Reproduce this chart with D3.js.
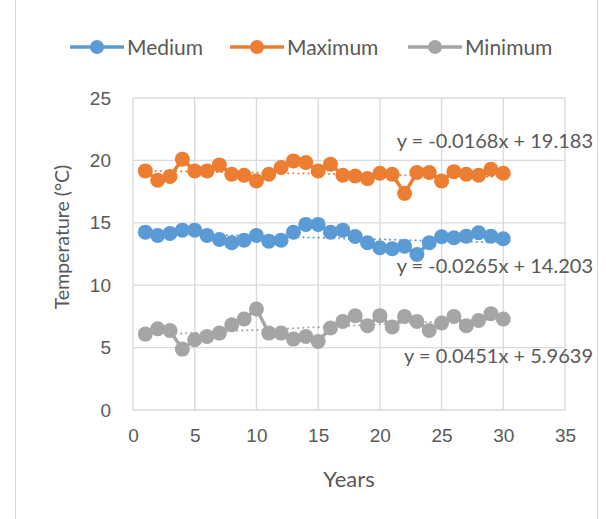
<!DOCTYPE html>
<html lang="en">
<head>
    <meta charset="UTF-8">
    <title>Temperature</title>
    <script src="https://d3js.org/d3.v7.min.js"></script>
    <style>
        body { margin: 0; background: #fff; }
        svg { font-family: Lato, "Open Sans", sans-serif; }
        .tick text { fill: #595959; font-size: 19px; }
    </style>
</head>
<body>
<svg width="606" height="519"></svg>
<script>
    // years 1..30
    const years = d3.range(1, 31);
    const medium = [14.25, 13.99, 14.15, 14.41, 14.41, 13.99, 13.67, 13.4, 13.61, 13.99,
                    13.53, 13.61, 14.25, 14.87, 14.87, 14.25, 14.41, 13.9, 13.4, 13.0,
                    12.92, 13.13, 12.46, 13.4, 13.88, 13.8, 13.93, 14.2, 13.93, 13.72];
    const maximum = [19.16, 18.41, 18.71, 20.1, 19.16, 19.16, 19.64, 18.89, 18.81, 18.35,
                     18.89, 19.43, 19.96, 19.83, 19.16, 19.7, 18.81, 18.75, 18.54, 18.97,
                     18.89, 17.36, 19.03, 19.03, 18.35, 19.1, 18.89, 18.81, 19.29, 18.97];
    const minimum = [6.08, 6.51, 6.37, 4.88, 5.63, 5.89, 6.16, 6.83, 7.29, 8.09,
                     6.16, 6.16, 5.68, 5.89, 5.49, 6.57, 7.1, 7.55, 6.75, 7.56,
                     6.65, 7.5, 7.1, 6.37, 6.97, 7.5, 6.75, 7.18, 7.72, 7.29];
    const seriesNames = ["Medium", "Maximum", "Minimum"];
    const colors = ["#5B9BD5", "#ED7D31", "#A5A5A5"];
    // trendline (slope, intercept) as printed on the chart
    const trends = [[-0.0265, 14.203], [-0.0168, 19.183], [0.0451, 5.9639]];
    const trendLabels = ["y = -0.0265x + 14.203", "y = -0.0168x + 19.183", "y = 0.0451x + 5.9639"];
    const xTicks = d3.range(0, 36, 5);
    const yTicks = d3.range(0, 26, 5);

    const svg = d3.select("svg");
    const margin = {left: 133, right: 41, top: 98, bottom: 109};
    const W = 606, H = 519;

    // outer chart border
    svg.append("line").attr("x1", 15.5).attr("x2", 15.5).attr("y1", 0).attr("y2", H)
        .attr("stroke", "#d9d9d9");
    svg.append("line").attr("x1", 597.5).attr("x2", 597.5).attr("y1", 0).attr("y2", H)
        .attr("stroke", "#d9d9d9");

    const x = d3.scaleLinear().domain([0, 35]).range([margin.left, W - margin.right]);
    const y = d3.scaleLinear().domain([0, 25]).range([H - margin.bottom, margin.top]);

    // grid
    const grid = svg.append("g");
    grid.selectAll(".gx").data(xTicks).enter().append("line")
        .attr("x1", d => x(d)).attr("x2", d => x(d))
        .attr("y1", y(0)).attr("y2", y(25))
        .attr("stroke", "#d9d9d9").attr("stroke-width", 1.3);
    grid.selectAll(".gy").data(yTicks).enter().append("line")
        .attr("x1", x(0)).attr("x2", x(35))
        .attr("y1", d => y(d)).attr("y2", d => y(d))
        .attr("stroke", "#d9d9d9").attr("stroke-width", 1.3);

    // axes (labels only)
    const xAxis = svg.append("g").attr("transform", `translate(0,${y(0)})`)
        .call(d3.axisBottom(x).tickValues(xTicks).tickSize(0).tickPadding(19));
    const yAxis = svg.append("g").attr("transform", `translate(${x(0) - 22},0)`)
        .call(d3.axisLeft(y).tickValues(yTicks).tickSize(0).tickPadding(0));
    xAxis.select(".domain").remove();
    yAxis.select(".domain").remove();

    svg.append("text").attr("x", x(17.5)).attr("y", 487)
        .attr("text-anchor", "middle").attr("fill", "#595959").attr("font-size", 22)
        .text("Years");
    svg.append("text").attr("transform", `translate(69,${y(12.5) - 17}) rotate(-90)`)
        .attr("text-anchor", "middle").attr("fill", "#595959").attr("font-size", 19.5)
        .text("Temperature (°C)");

    const data = [medium, maximum, minimum];
    const line = d3.line().x((d, i) => x(years[i])).y(d => y(d));

    // series lines and markers
    data.forEach((vals, k) => {
        const g = svg.append("g");
        g.append("path").datum(vals).attr("d", line)
            .attr("fill", "none").attr("stroke", colors[k]).attr("stroke-width", 3.5);
        g.selectAll("circle").data(vals).enter().append("circle")
            .attr("cx", (d, i) => x(years[i])).attr("cy", d => y(d)).attr("r", 7.5)
            .attr("fill", colors[k]);
    });

    // dotted linear trendlines
    trends.forEach((t, k) => {
        svg.append("line")
            .attr("x1", x(1)).attr("y1", y(t[1] + t[0] * 1))
            .attr("x2", x(30)).attr("y2", y(t[1] + t[0] * 30))
            .attr("stroke", colors[k]).attr("stroke-width", 2)
            .attr("stroke-dasharray", "0.1 5").attr("stroke-linecap", "round");
    });

    // trendline equations
    const eqPos = [[593, 273], [593, 148], [593, 363]];
    trendLabels.forEach((s, k) => {
        svg.append("text").attr("x", eqPos[k][0]).attr("y", eqPos[k][1])
            .attr("text-anchor", "end").attr("fill", "#595959").attr("font-size", 20)
            .text(s);
    });

    // legend
    const legX = [70, 230, 408];
    const lg = svg.append("g");
    seriesNames.forEach((name, k) => {
        const g = lg.append("g").attr("transform", `translate(${legX[k]},47)`);
        g.append("line").attr("x1", 0).attr("x2", 54).attr("stroke", colors[k]).attr("stroke-width", 3.5);
        g.append("circle").attr("cx", 27).attr("r", 7).attr("fill", colors[k]);
        g.append("text").attr("x", 57).attr("y", 7.5).attr("fill", "#595959")
            .attr("font-size", 21).text(name);
    });
</script>
</body>
</html>
